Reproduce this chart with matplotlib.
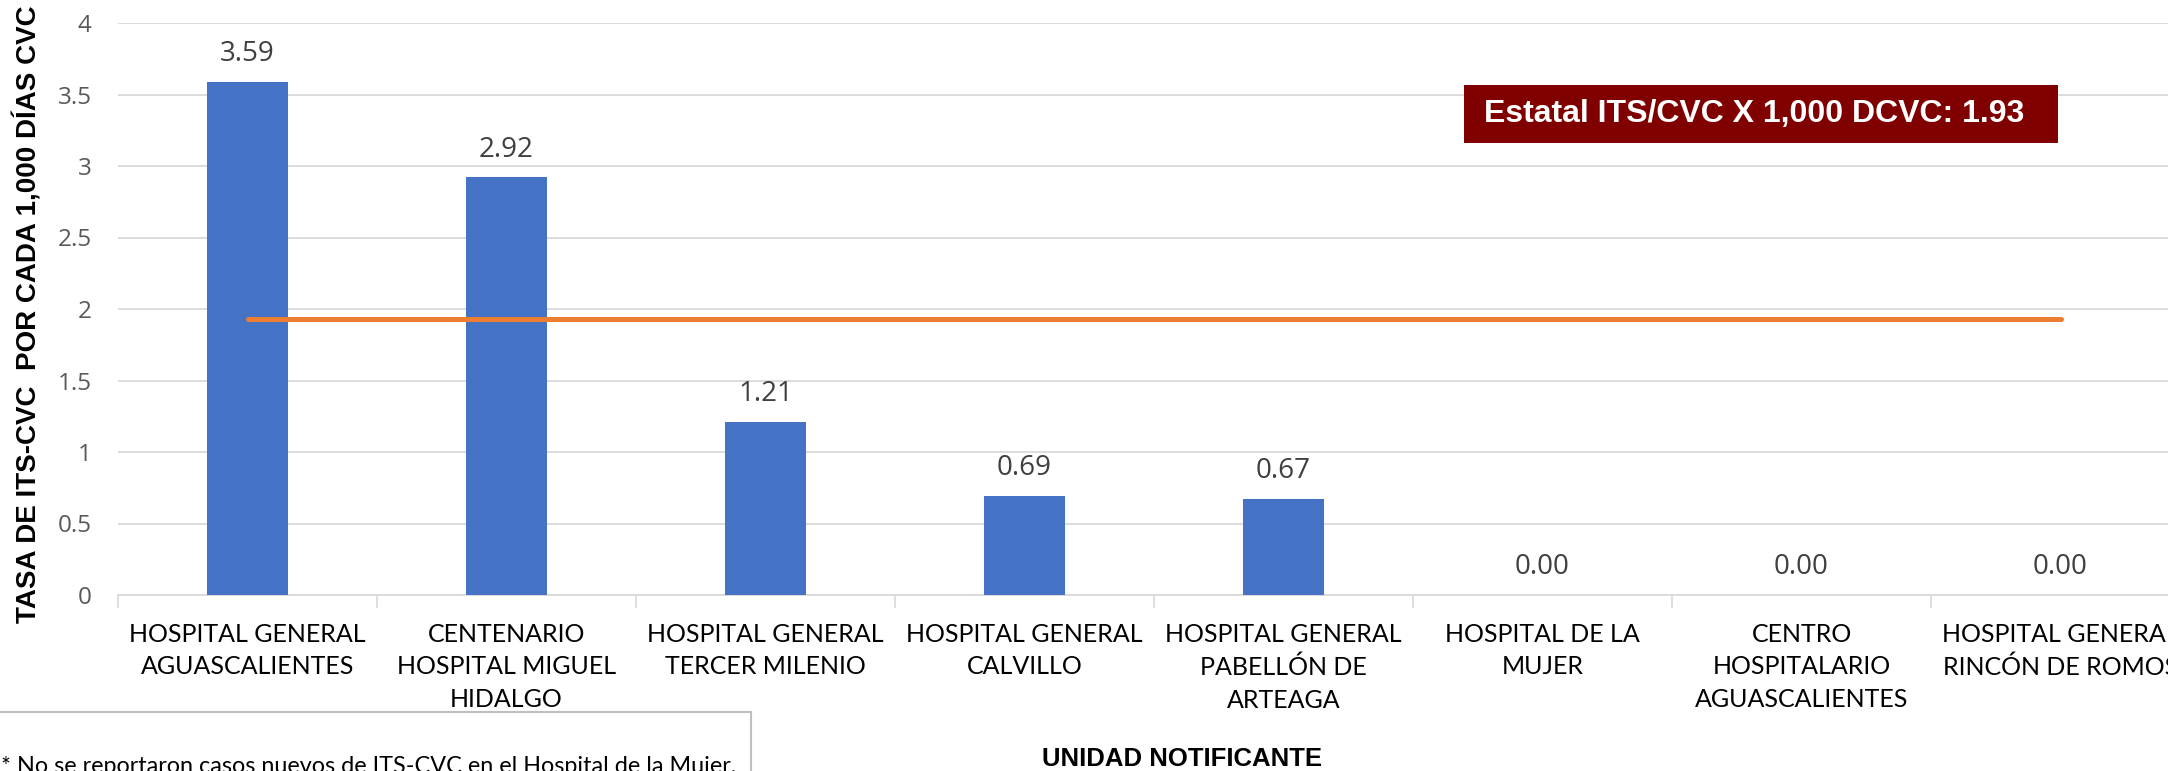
import matplotlib
matplotlib.use("Agg")
import matplotlib.pyplot as plt
from matplotlib.patches import Rectangle

# data
unidades = [
    "HOSPITAL GENERAL\nAGUASCALIENTES",
    "CENTENARIO\nHOSPITAL MIGUEL\nHIDALGO",
    "HOSPITAL GENERAL\nTERCER MILENIO",
    "HOSPITAL GENERAL\nCALVILLO",
    "HOSPITAL GENERAL\nPABELLÓN DE\nARTEAGA",
    "HOSPITAL DE LA\nMUJER",
    "CENTRO\nHOSPITALARIO\nAGUASCALIENTES",
    "HOSPITAL GENERAL\nRINCÓN DE ROMOS",
]
tasas = [3.59, 2.92, 1.21, 0.69, 0.67, 0.00, 0.00, 0.00]
tasa_estatal = 1.93
y_ticks = [0, 0.5, 1, 1.5, 2, 2.5, 3, 3.5, 4]

W, H = 2168, 771
fig = plt.figure(figsize=(W / 100, H / 100), dpi=100)

# axes placed in pixel terms (extends a bit past the right edge, like the original crop)
ax_left, ax_top, ax_bottom = 118, 23, 595
ax_w = 8 * 259
ax = fig.add_axes([ax_left / W, 1 - ax_bottom / H, ax_w / W, (ax_bottom - ax_top) / H])

x = list(range(len(unidades)))
ax.bar(x, tasas, width=0.313, color="#4472C4", zorder=3)
ax.plot(x, [tasa_estatal] * len(x), color="#ED7D31", lw=3.6,
        solid_capstyle="round", zorder=4)

for xi, v in zip(x, tasas):
    ax.annotate(f"{v:.2f}", (xi, v), xytext=(0, 10), textcoords="offset points",
                ha="center", va="bottom", fontsize=20, color="#404040",
                family="Open Sans")

ax.set_xlim(-0.5, len(unidades) - 0.5)
ax.set_ylim(0, 4)
ax.set_yticks(y_ticks)
ax.set_yticklabels([f"{t:g}" for t in y_ticks], fontsize=17.5, color="#595959",
                   family="Open Sans")
ax.tick_params(axis="y", length=0, pad=19)

ax.set_xticks(x)
ax.set_xticklabels(unidades, fontsize=18, family="Lato", color="#000000",
                   linespacing=1.5)
ax.tick_params(axis="x", which="major", length=0, pad=20)
ax.set_xticks([i - 0.5 for i in range(len(unidades) + 1)], minor=True)
ax.tick_params(axis="x", which="minor", length=9, width=1.2, color="#d9d9d9")

ax.grid(axis="y", color="#d9d9d9", lw=1.3, zorder=0)
ax.set_axisbelow(True)
for s in ["top", "right", "left"]:
    ax.spines[s].set_visible(False)
ax.spines["bottom"].set_color("#d9d9d9")
ax.spines["bottom"].set_linewidth(1.3)

# state rate box
bx0, bx1, by0, by1 = 1464, 2058, 85, 143
to_ax_x = lambda px: (px - ax_left) / ax_w
to_ax_y = lambda py: 1 - (py - ax_top) / (ax_bottom - ax_top)
ax.add_patch(Rectangle((to_ax_x(bx0), to_ax_y(by1)), to_ax_x(bx1) - to_ax_x(bx0),
                       to_ax_y(by0) - to_ax_y(by1), transform=ax.transAxes,
                       facecolor="#800000", edgecolor="none", zorder=5))
ax.text(to_ax_x(1484), to_ax_y((by0 + by1) / 2), "Estatal ITS/CVC X 1,000 DCVC: 1.93",
        transform=ax.transAxes, ha="left", va="center", fontsize=23,
        fontweight="bold", color="white", family="Liberation Sans", zorder=6)

# axis titles
fig.text(28 / W, 1 - 314 / H, "TASA DE ITS-CVC  POR CADA 1,000 DÍAS CVC",
         rotation=90, ha="center", va="center", fontsize=20, fontweight="bold",
         family="Liberation Sans")
fig.text(1042 / W, 1 - 759 / H, "UNIDAD NOTIFICANTE", ha="left", va="center",
         fontsize=18.5, fontweight="bold", family="Liberation Sans")

# footnote box (cut off at the bottom)
fig.patches.append(Rectangle((-5 / W, -0.2), 756 / W, 0.2 + 1 - 712 / H,
                             transform=fig.transFigure, facecolor="none",
                             edgecolor="#bfbfbf", lw=1.5))
fig.text(1 / W, 1 - 756 / H,
         "* No se reportaron casos nuevos de ITS-CVC en el Hospital de la Mujer,",
         ha="left", va="top", fontsize=16.8, family="Lato")

fig.savefig("out.png", dpi=100)
